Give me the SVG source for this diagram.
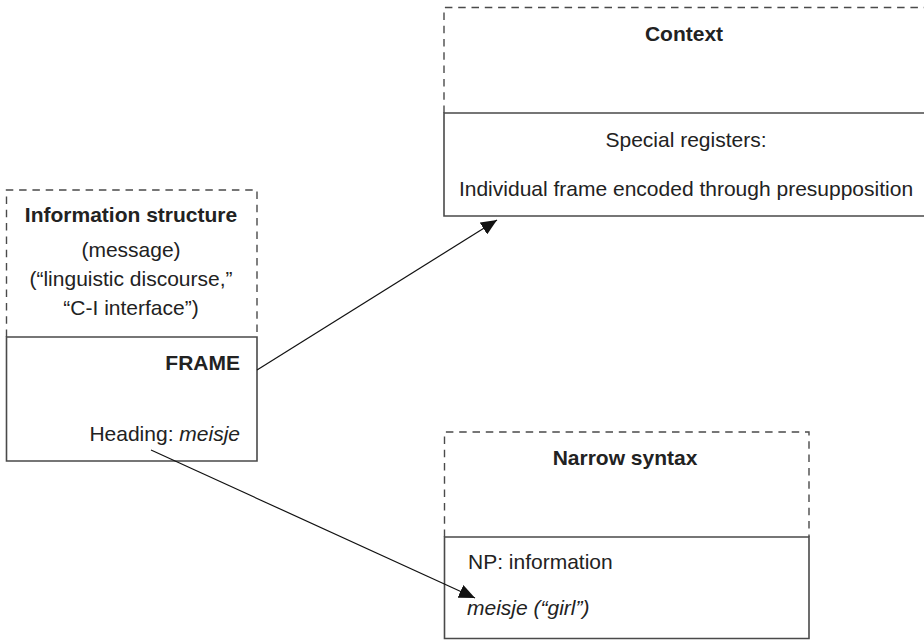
<svg xmlns="http://www.w3.org/2000/svg" width="924" height="640" viewBox="0 0 924 640">
<defs>
<style>
.dash{fill:none;stroke:#4a4a4a;stroke-width:1.4;stroke-dasharray:7.5 5.8}
.solid{fill:none;stroke:#4a4a4a;stroke-width:1.6}
.t{font-family:"Liberation Sans",Arial,Helvetica,sans-serif;font-size:21px;fill:#222}
.b{font-weight:bold}
.i{font-style:italic}
.c{text-anchor:middle}
.r{text-anchor:end}
.conn{fill:none;stroke:#111;stroke-width:1.2}
</style>
<marker id="ah" markerUnits="userSpaceOnUse" markerWidth="18" markerHeight="14" refX="16" refY="7" orient="auto">
<path d="M0,0 L16,7 L0,14 Z" fill="#111"/>
</marker>
</defs>
<rect width="924" height="640" fill="#fff"/>

<g id="info-structure">
<path class="dash" d="M6.5,337 V190 H257 V337"/>
<path class="solid" d="M6.5,337 H257 V461 H6.5 Z"/>
<text class="t b c" x="131" y="222">Information structure</text>
<text class="t c" x="131" y="257">(message)</text>
<text class="t c" x="131" y="286">(“linguistic discourse,”</text>
<text class="t c" x="131" y="315">“C-I interface”)</text>
<text class="t b r" x="240" y="370">FRAME</text>
<text class="t r" x="240" y="441">Heading: <tspan class="i">meisje</tspan></text>
</g>

<g id="context">
<path class="dash" d="M444,113 V7.5 H926"/>
<path class="solid" d="M926,113 H444 V216 H926"/>
<text class="t b c" x="684" y="41">Context</text>
<text class="t c" x="686" y="147">Special registers:</text>
<text class="t c" x="686" y="196">Individual frame encoded through presupposition</text>
</g>

<g id="narrow-syntax">
<path class="dash" d="M444.5,537 V432 H809 V537"/>
<path class="solid" d="M444.5,537 H809 V638.5 H444.5 Z"/>
<text class="t b c" x="625" y="465">Narrow syntax</text>
<text class="t" x="468" y="569">NP: information</text>
<text class="t i" x="467" y="615">meisje (“girl”)</text>
</g>

<g id="connectors">
<line class="conn" x1="257" y1="370" x2="497" y2="220" marker-end="url(#ah)"/>
<line class="conn" x1="151" y1="450" x2="475" y2="598" marker-end="url(#ah)"/>
</g>
</svg>
